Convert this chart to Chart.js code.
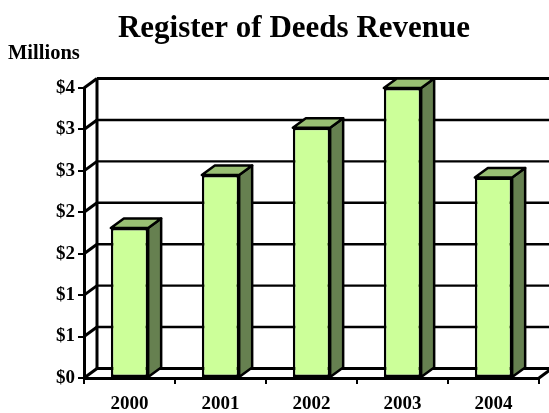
<!DOCTYPE html>
<html>
<head>
<meta charset="utf-8">
<title>Register of Deeds Revenue</title>
<script src="https://cdn.jsdelivr.net/npm/chart.js@4"></script>
<style>
    body { margin: 0; background: #fff; }
    canvas { display: block; }
</style>
</head>
<body>
<canvas id="deedsChart" width="549" height="413"></canvas>
<script>
const chartTitle = 'Register of Deeds Revenue';
const unitLabel = 'Millions';
const years = ['2000', '2001', '2002', '2003', '2004'];
const revenue = [1.81, 2.45, 3.02, 3.5, 2.42];

const depthX = 13; // how far the back wall sits from the front axis
const depthY = 9.5;

function poly(ctx, points, fill) {
    ctx.beginPath();
    points.forEach((p, i) => i ? ctx.lineTo(p[0], p[1]) : ctx.moveTo(p[0], p[1]));
    ctx.closePath();
    if (fill) {
        ctx.fillStyle = fill;
        ctx.fill();
    }
    ctx.stroke();
}

function line(ctx, x1, y1, x2, y2, width) {
    ctx.lineWidth = width;
    ctx.beginPath();
    ctx.moveTo(x1, y1);
    ctx.lineTo(x2, y2);
    ctx.stroke();
}

// Excel style 3D look: back wall, floor and the sides of the bars
const box3d = {
    id: 'box3d',
    beforeDatasetsDraw(chart) {
        const ctx = chart.ctx;
        const area = chart.chartArea;
        const y = chart.scales.y;

        ctx.save();
        ctx.strokeStyle = '#000';
        ctx.lineJoin = 'round';

        y.ticks.forEach((tick, i) => {
            const py = y.getPixelForValue(tick.value);
            const outer = i === 0 || i === y.ticks.length - 1;
            line(ctx, area.left, py, area.left + depthX, py - depthY, 3);
            line(ctx, area.left + depthX, py - depthY, area.right + depthX, py - depthY, outer ? 3 : 2.4);
        });
        line(ctx, area.left + depthX, area.top - depthY, area.left + depthX, area.bottom - depthY, 3);
        line(ctx, area.right, area.bottom, area.right + depthX, area.bottom - depthY, 3);

        ctx.lineWidth = 2.5;
        chart.getDatasetMeta(0).data.forEach(bar => {
            const left = bar.x - bar.width / 2;
            const right = bar.x + bar.width / 2;
            poly(ctx, [[right, bar.y], [right + depthX, bar.y - depthY], [right + depthX, bar.base - depthY], [right, bar.base]], '#668050');
            poly(ctx, [[left, bar.y], [left + depthX, bar.y - depthY], [right + depthX, bar.y - depthY], [right, bar.y]], '#99bf73');
        });
        ctx.restore();
    },
    afterDraw(chart) {
        const ctx = chart.ctx;
        ctx.save();
        ctx.fillStyle = '#000';
        ctx.textBaseline = 'middle';
        ctx.textAlign = 'center';
        ctx.font = 'bold 31px "Liberation Serif"';
        ctx.fillText(chartTitle, 294, 29);
        ctx.textAlign = 'left';
        ctx.font = 'bold 20.5px "Liberation Serif"';
        ctx.fillText(unitLabel, 8, 54);
        ctx.restore();
    }
};

const tickFont = { family: '"Liberation Serif"', size: 19, weight: 'bold' };

new Chart(document.getElementById('deedsChart'), {
    type: 'bar',
    data: {
        labels: years,
        datasets: [{
            data: revenue,
            backgroundColor: '#ccff99',
            borderColor: '#000',
            borderWidth: 2.5,
            borderSkipped: false,
            categoryPercentage: 1,
            barPercentage: 0.41
        }]
    },
    options: {
        responsive: false,
        animation: false,
        layout: { padding: { top: 88, right: 10 } },
        plugins: {
            legend: { display: false },
            tooltip: { enabled: false }
        },
        scales: {
            x: {
                afterFit(scale) { scale.height = 35; },
                border: { color: '#000', width: 3 },
                grid: { drawOnChartArea: false, color: '#000', lineWidth: 2, tickLength: 6 },
                ticks: { color: '#000', font: tickFont, padding: 9, maxRotation: 0 }
            },
            y: {
                min: 0,
                max: 3.5,
                afterFit(scale) { scale.width = 84; },
                border: { color: '#000', width: 3 },
                grid: { drawOnChartArea: false, color: '#000', lineWidth: 2, tickLength: 6 },
                ticks: {
                    stepSize: 0.5,
                    color: '#000',
                    font: tickFont,
                    padding: 3,
                    callback: value => '$' + Math.round(value) // axis rounds to whole millions
                }
            }
        }
    },
    plugins: [box3d]
});
</script>
</body>
</html>
